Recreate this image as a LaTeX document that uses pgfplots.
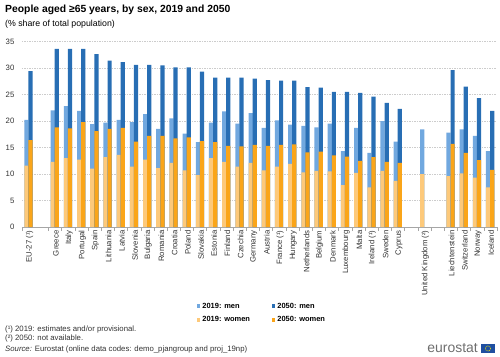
\documentclass[border=0pt]{standalone}
\usepackage{pgfplots}
\pgfplotsset{compat=1.18}
\usepackage{pgfplotstable}
\usepackage{fontspec}
\setmainfont{Liberation Sans}
\definecolor{lblue}{HTML}{71A8DF}
\definecolor{dblue}{HTML}{286EB4}
\definecolor{lorange}{HTML}{FDC97A}
\definecolor{dorange}{HTML}{FAA519}
\definecolor{txt}{HTML}{333333}
\definecolor{eublue}{HTML}{1F4FA0}
\definecolor{logogray}{HTML}{6E6E6E}

% x = slot, w19 = women 2019, t19 = total 2019 (women+men), w50/t50 same for 2050
\pgfplotstableread{
x  w19  t19  w50  t50
0  11.6 20.2 16.4 29.4
2  12.3 22.0 18.8 33.6
3  13.0 22.8 18.6 33.6
4  12.7 21.9 19.8 33.6
5  11.0 19.4 18.1 32.6
6  13.2 19.7 18.5 31.4
7  13.6 20.2 18.7 31.1
8  11.4 19.8 16.1 30.6
9  12.7 21.3 17.2 30.6
10 11.1 18.5 17.2 30.5
11 12.1 20.5 16.7 30.1
12 10.7 17.6 16.9 30.1
13 9.8  16.0 16.2 29.3
14 13.0 19.7 16.0 28.2
15 12.3 21.8 15.3 28.2
16 11.4 19.5 15.2 28.2
17 12.1 21.5 15.5 28.0
18 10.7 18.7 15.3 27.7
19 11.4 20.1 15.5 27.6
20 11.9 19.3 15.6 27.6
21 10.3 19.1 14.1 26.4
22 10.6 18.8 14.2 26.3
23 10.5 19.5 13.5 25.5
24 7.9  14.3 13.3 25.5
25 10.2 18.7 12.5 25.3
26 7.5  14.0 13.2 24.6
27 10.6 20.0 12.3 23.4
28 8.7  16.1 12.1 22.3
30 10.0 18.4 nan  nan
32 9.6  17.8 15.7 29.6
33 10.1 18.4 14.0 26.5
34 9.3  17.2 12.6 24.3
35 7.5  14.3 10.8 21.9
}\data

\begin{document}
\begin{tikzpicture}
\path[use as bounding box] (0,0) rectangle (500bp,-357bp);

\node[anchor=west, inner sep=0, font=\bfseries\fontsize{10.4}{12}\selectfont] at (5bp,-10bp) {People aged ≥65 years, by sex, 2019 and 2050};
\node[anchor=west, inner sep=0, font=\fontsize{8.8}{10}\selectfont] at (5bp,-24bp) {(\% share of total population)};

\begin{axis}[
  at={(21.9bp,-227bp)}, anchor=south west,
  width=474.9bp, height=185.5bp, scale only axis,
  xmin=-0.5, xmax=35.5, ymin=0, ymax=35,
  axis lines*=left,
  x axis line style={-, draw=gray!70},
  y axis line style={draw=none},
  xtick={0,2,3,4,5,6,7,8,9,10,11,12,13,14,15,16,17,18,19,20,21,22,23,24,25,26,27,28,30,32,33,34,35},
  xticklabels={EU-27 (¹),Greece,Italy,Portugal,Spain,Lithuania,Latvia,Slovenia,Bulgaria,Romania,Croatia,Poland,Slovakia,Estonia,Finland,Czechia,Germany,Austria,France (¹),Hungary,Netherlands,Belgium,Denmark,Luxembourg,Malta,Ireland (¹),Sweden,Cyprus,United Kingdom (²),Liechtenstein,Switzerland,Norway,Iceland},
  minor xtick={-0.5,1.5,2.5,3.5,4.5,5.5,6.5,7.5,8.5,9.5,10.5,11.5,12.5,13.5,14.5,15.5,16.5,17.5,18.5,19.5,20.5,21.5,22.5,23.5,24.5,25.5,26.5,27.5,28.5,29.5,30.5,31.5,32.5,33.5,34.5,35.5},
  major tick length=0pt, minor tick length=4bp, tick align=outside,
  tick style={gray!70},
  xticklabel style={rotate=90, anchor=east, font=\fontsize{7.8}{9}\selectfont, text=txt, yshift=-1bp},
  ytick={0,5,...,35},
  yticklabel style={font=\fontsize{7.8}{9}\selectfont, text=txt, xshift=-4bp},
  /pgf/number format/assume math mode=true,
  ymajorgrids, grid style={gray!40, dash pattern=on 1.5bp off 1bp},
  legend columns=2,
  legend style={draw=none, fill=none, at={(0.5056,-0.4636)}, anchor=center,
    font=\bfseries\fontsize{7.5}{9}\selectfont, row sep=3bp,
    /tikz/every even column/.append style={column sep=20bp}},
  legend cell align=left,
  legend image code/.code={\fill[#1] (0bp,-1.7bp) rectangle (3.4bp,1.7bp);},
]
\addplot[ybar, bar width=0.32, bar shift=-0.16, fill=lblue, draw=none, forget plot] table[x=x,y=t19] {\data};
\addplot[ybar, bar width=0.32, bar shift=-0.16, fill=lorange, draw=none, forget plot] table[x=x,y=w19] {\data};
\addplot[ybar, bar width=0.32, bar shift=0.15, fill=dblue, draw=none, forget plot] table[x=x,y=t50] {\data};
\addplot[ybar, bar width=0.32, bar shift=0.15, fill=dorange, draw=none, forget plot] table[x=x,y=w50] {\data};

\addlegendimage{fill=lblue, draw=none}
\addlegendentry{2019: men}
\addlegendimage{fill=dblue, draw=none}
\addlegendentry{2050: men}
\addlegendimage{fill=lorange, draw=none}
\addlegendentry{2019: women}
\addlegendimage{fill=dorange, draw=none}
\addlegendentry{2050: women}
\end{axis}

\node[anchor=west, inner sep=0, font=\fontsize{7.8}{9}\selectfont, text=txt] at (5bp,-329bp) {(¹) 2019: estimates and/or provisional.};
\node[anchor=west, inner sep=0, font=\fontsize{7.8}{9}\selectfont, text=txt] at (5bp,-338.5bp) {(²) 2050: not available.};
\node[anchor=west, inner sep=0, font=\fontsize{7.8}{9}\selectfont, text=txt] at (5bp,-349.5bp) {\textit{Source:} Eurostat (online data codes: demo\_pjangroup and proj\_19np)};

\node[anchor=east, inner sep=0, font=\fontsize{14}{16}\selectfont, text=logogray] at (478bp,-348bp) {eurostat};
\fill[eublue] (481bp,-344bp) rectangle (495bp,-353bp);
\draw[yellow, line width=0.5bp, dash pattern=on 0.6bp off 0.6bp] (488bp,-348.5bp) circle (2.6bp);
\end{tikzpicture}
\end{document}
